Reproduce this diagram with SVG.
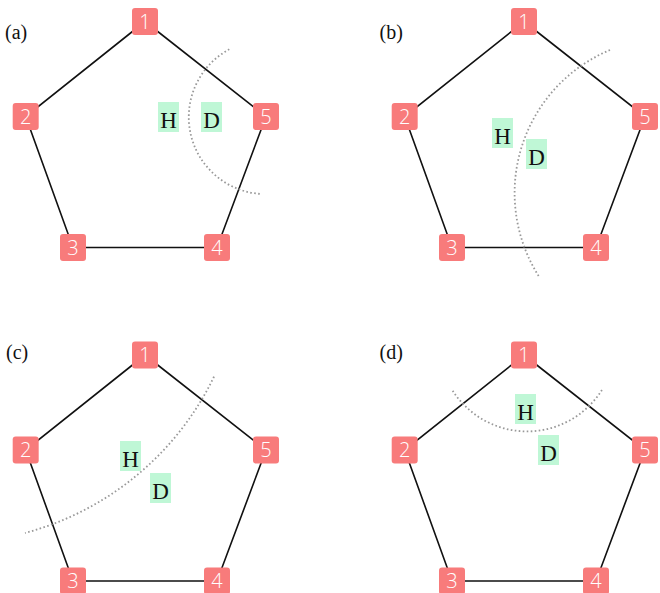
<svg xmlns="http://www.w3.org/2000/svg" width="660" height="593" viewBox="0 0 660 593">
<style>
.edge{stroke:#111;stroke-width:1.6;fill:none}
.cut{stroke:#999;stroke-width:1.8;stroke-dasharray:1.6 2.4;fill:none}
.nbox{fill:#f87b7b}
.ntxt{font-family:"Open Sans","Noto Sans",sans-serif;font-weight:300;font-size:20px;fill:#fff;text-anchor:middle}
.lbox{fill:#bff7d6}
.ltxt{font-family:"Liberation Serif",serif;font-size:23px;fill:#111;text-anchor:middle}
.ptxt{font-family:"Liberation Serif",serif;font-size:20px;fill:#111}
</style>
<defs>
<rect id="nb" class="nbox" x="-13" y="-13.5" width="26" height="27" rx="3"/>
<rect id="lb" class="lbox" x="0" y="0" width="21" height="30"/>
</defs>
<rect width="660" height="593" fill="#fff"/>
<text class="ptxt" x="5" y="39">(a)</text>
<text class="ptxt" x="379.5" y="39">(b)</text>
<text class="ptxt" x="6" y="358.5">(c)</text>
<text class="ptxt" x="379.5" y="358.5">(d)</text>

<!-- Panel a -->
<g id="panel-a">
<g id="a-edges">
<polyline class="edge" points="145,21.5 25.7,116.5 73,247.5 217,247.5 266,116.5 145,21.5"/>
</g>
<path id="a-cut" class="cut" d="M229.3,49.3 A77,77 0 0 0 261.7,194"/>
<g id="a-n1"><use href="#nb" x="145" y="21.5"/><text class="ntxt" x="145" y="28.5">1</text></g>
<g id="a-n2"><use href="#nb" x="25.7" y="116.5"/><text class="ntxt" x="25.7" y="123.5">2</text></g>
<g id="a-n3"><use href="#nb" x="73" y="247.5"/><text class="ntxt" x="73" y="254.5">3</text></g>
<g id="a-n4"><use href="#nb" x="217" y="247.5"/><text class="ntxt" x="217" y="254.5">4</text></g>
<g id="a-n5"><use href="#nb" x="266" y="116.5"/><text class="ntxt" x="266" y="123.5">5</text></g>
<g id="a-H"><use href="#lb" x="158" y="102"/><text class="ltxt" x="168.5" y="127.5">H</text></g>
<g id="a-D"><use href="#lb" x="201" y="102"/><text class="ltxt" x="211.5" y="127.5">D</text></g>
</g>

<!-- Panel b -->
<g id="panel-b" transform="translate(379,0)">
<g id="b-edges">
<polyline class="edge" points="145,21.5 25.7,116.5 73,247.5 217,247.5 266,116.5 145,21.5"/>
</g>
<path id="b-cut" class="cut" d="M231,50 A155,155 0 0 0 160.3,277"/>
<g id="b-n1"><use href="#nb" x="145" y="21.5"/><text class="ntxt" x="145" y="28.5">1</text></g>
<g id="b-n2"><use href="#nb" x="25.7" y="116.5"/><text class="ntxt" x="25.7" y="123.5">2</text></g>
<g id="b-n3"><use href="#nb" x="73" y="247.5"/><text class="ntxt" x="73" y="254.5">3</text></g>
<g id="b-n4"><use href="#nb" x="217" y="247.5"/><text class="ntxt" x="217" y="254.5">4</text></g>
<g id="b-n5"><use href="#nb" x="266" y="116.5"/><text class="ntxt" x="266" y="123.5">5</text></g>
<g id="b-H"><use href="#lb" x="113" y="118"/><text class="ltxt" x="123.5" y="143.5">H</text></g>
<g id="b-D"><use href="#lb" x="147" y="139"/><text class="ltxt" x="157.5" y="164.5">D</text></g>
</g>

<!-- Panel c -->
<g id="panel-c" transform="translate(0,333.5)">
<g id="c-edges">
<polyline class="edge" points="145,21.5 25.7,116.5 73,247.5 217,247.5 266,116.5 145,21.5"/>
</g>
<path id="c-cut" class="cut" d="M214,43.2 A294,294 0 0 1 25,199.5"/>
<g id="c-n1"><use href="#nb" x="145" y="21.5"/><text class="ntxt" x="145" y="28.5">1</text></g>
<g id="c-n2"><use href="#nb" x="25.7" y="116.5"/><text class="ntxt" x="25.7" y="123.5">2</text></g>
<g id="c-n3"><use href="#nb" x="73" y="247.5"/><text class="ntxt" x="73" y="254.5">3</text></g>
<g id="c-n4"><use href="#nb" x="217" y="247.5"/><text class="ntxt" x="217" y="254.5">4</text></g>
<g id="c-n5"><use href="#nb" x="266" y="116.5"/><text class="ntxt" x="266" y="123.5">5</text></g>
<g id="c-H"><use href="#lb" x="120" y="107.5"/><text class="ltxt" x="130.5" y="133">H</text></g>
<g id="c-D"><use href="#lb" x="150" y="139.5"/><text class="ltxt" x="160.5" y="165">D</text></g>
</g>

<!-- Panel d -->
<g id="panel-d" transform="translate(379,333.5)">
<g id="d-edges">
<polyline class="edge" points="145,21.5 25.7,116.5 73,247.5 217,247.5 266,116.5 145,21.5"/>
</g>
<path id="d-cut" class="cut" d="M73.7,57.2 A88.3,88.3 0 0 0 223.3,55.8"/>
<g id="d-n1"><use href="#nb" x="145" y="21.5"/><text class="ntxt" x="145" y="28.5">1</text></g>
<g id="d-n2"><use href="#nb" x="25.7" y="116.5"/><text class="ntxt" x="25.7" y="123.5">2</text></g>
<g id="d-n3"><use href="#nb" x="73" y="247.5"/><text class="ntxt" x="73" y="254.5">3</text></g>
<g id="d-n4"><use href="#nb" x="217" y="247.5"/><text class="ntxt" x="217" y="254.5">4</text></g>
<g id="d-n5"><use href="#nb" x="266" y="116.5"/><text class="ntxt" x="266" y="123.5">5</text></g>
<g id="d-H"><use href="#lb" x="136" y="60.5"/><text class="ltxt" x="146.5" y="86">H</text></g>
<g id="d-D"><use href="#lb" x="159" y="101.5"/><text class="ltxt" x="169.5" y="127">D</text></g>
</g>
</svg>
